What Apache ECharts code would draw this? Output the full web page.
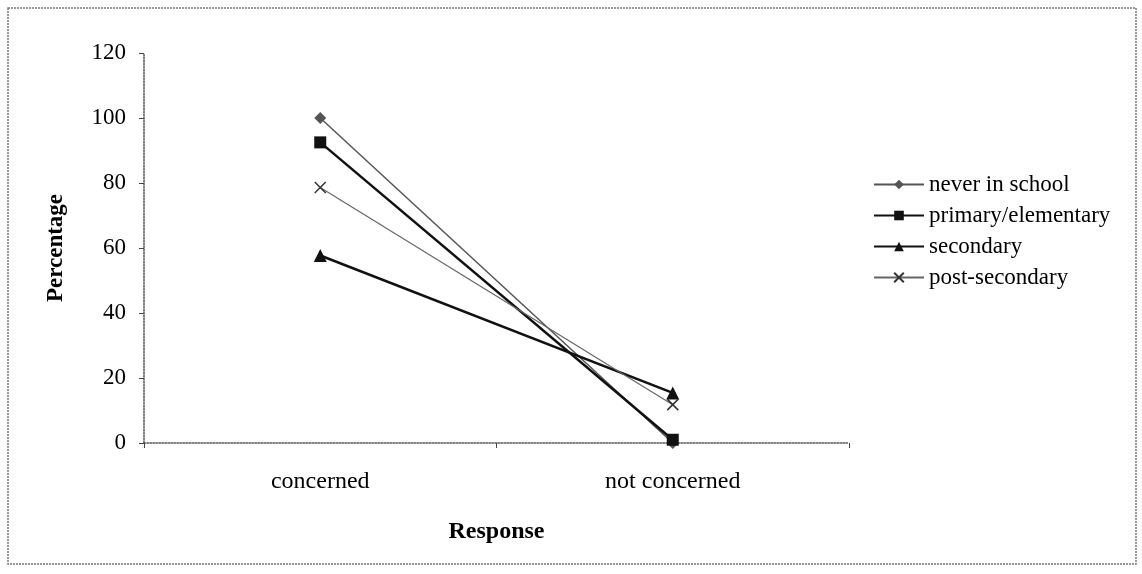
<!DOCTYPE html>
<html>
<head>
<meta charset="utf-8">
<script src="https://cdn.jsdelivr.net/npm/echarts@6/dist/echarts.min.js"></script>
<style>
html, body { margin: 0; padding: 0; background: #fff; }
#main { width: 1142px; height: 574px; }
</style>
</head>
<body>
<div id="main"></div>
<script>
// 数据
const categories = ['concerned', 'not concerned']
const neverInSchool = [100, 0]
const primaryElementary = [92.5, 1]
const secondary = [57.7, 15.4]
const postSecondary = [78.6, 11.8]
const yTicks = [0, 20, 40, 60, 80, 100, 120]

const serif = '"Liberation Serif", "DejaVu Serif", serif'

let myChart = echarts.init(document.getElementById('main'))

function makeSeries(name, data, symbol, size, color, width) {
  return {
    name: name,
    type: 'line',
    data: data,
    symbol: symbol,
    symbolSize: size,
    showAllSymbol: true,
    lineStyle: { color: color, width: width },
    itemStyle: { color: color },
    animation: false
  }
}

const option = {
  backgroundColor: '#fff',
  textStyle: { fontFamily: serif },
  graphic: [{
    type: 'rect',
    shape: { x: 8, y: 8, width: 1128, height: 556 },
    style: { fill: 'none', stroke: '#777', lineWidth: 1.5, lineDash: [2, 1] }
  }],
  grid: { left: 144, right: 293, top: 53, bottom: 131 },
  legend: {
    orient: 'vertical',
    left: 868,
    top: 168,
    itemWidth: 50,
    itemHeight: 12,
    itemGap: 8,
    textStyle: { fontFamily: serif, fontSize: 23, color: '#000' },
    data: ['never in school', 'primary/elementary', 'secondary', 'post-secondary']
  },
  xAxis: {
    type: 'category',
    data: categories,
    boundaryGap: true,
    name: 'Response',
    nameLocation: 'middle',
    nameGap: 77,
    nameTextStyle: { fontFamily: serif, fontSize: 24, fontWeight: 'bold', color: '#000' },
    axisLine: { lineStyle: { color: '#555', type: 'dotted', width: 1.5 } },
    axisTick: { show: true, length: 5, lineStyle: { color: '#444' } },
    axisLabel: { fontFamily: serif, fontSize: 24, color: '#000', margin: 27 }
  },
  yAxis: {
    type: 'value',
    min: yTicks[0],
    max: yTicks[yTicks.length - 1],
    interval: 20,
    name: 'Percentage',
    nameLocation: 'middle',
    nameGap: 76,
    nameTextStyle: { fontFamily: serif, fontSize: 23, fontWeight: 'bold', color: '#000' },
    axisLine: { show: true, lineStyle: { color: '#555', type: 'dotted', width: 1.5 } },
    axisTick: { show: true, length: 5, lineStyle: { color: '#444' } },
    splitLine: { show: false },
    axisLabel: { fontFamily: serif, fontSize: 23, color: '#000', margin: 18 }
  },
  series: [
    makeSeries('never in school', neverInSchool, 'diamond', 12, '#555', 1.5),
    makeSeries('primary/elementary', primaryElementary, 'rect', 12, '#111', 2.5),
    makeSeries('secondary', secondary, 'triangle', 13, '#111', 2.5),
    makeSeries('post-secondary', postSecondary, 'path://M0,0 L10,10 M10,0 L0,10 M5,5 L5,5', 11, '#666', 1.2)
  ]
}
// x 符号用描边
option.series[3].itemStyle = { color: 'none', borderColor: '#333', borderWidth: 1.5 }
myChart.setOption(option)
</script>
</body>
</html>
